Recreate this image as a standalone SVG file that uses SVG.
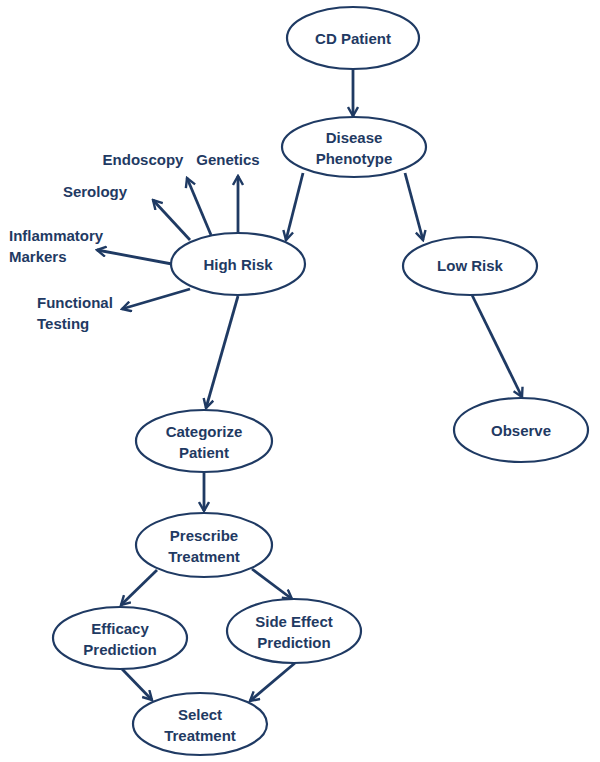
<svg xmlns="http://www.w3.org/2000/svg" width="600" height="762" viewBox="0 0 600 762">
<style>
.n ellipse{fill:#fff;stroke:#1f3a63;stroke-width:2.2}
text{font-family:"Liberation Sans",Arial,sans-serif;font-weight:bold;font-size:15px;fill:#1f3a63;text-anchor:middle}
.l{text-anchor:start}
.c line{stroke:#1f3a63;stroke-width:2.8;marker-end:url(#a)}
</style>
<defs>
<marker id="a" viewBox="0 0 12 12" refX="10" refY="6" markerWidth="12" markerHeight="12" markerUnits="userSpaceOnUse" orient="auto">
<path d="M1,1 L10,6 L1,11" fill="none" stroke="#1f3a63" stroke-width="2.4"/>
</marker>
</defs>
<rect width="600" height="762" fill="#fff"/>
<g class="c">
<line x1="353" y1="69" x2="353" y2="116"/>
<line x1="303" y1="173" x2="286" y2="240"/>
<line x1="405" y1="173" x2="423" y2="240"/>
<line x1="472" y1="295" x2="522" y2="397"/>
<line x1="238" y1="233" x2="238" y2="176"/>
<line x1="211" y1="235" x2="187" y2="178"/>
<line x1="190" y1="240" x2="153" y2="200"/>
<line x1="172" y1="264" x2="97" y2="250"/>
<line x1="190" y1="289" x2="122" y2="309"/>
<line x1="238" y1="296" x2="206" y2="408"/>
<line x1="204" y1="473" x2="204" y2="511"/>
<line x1="157" y1="570" x2="121" y2="605"/>
<line x1="252" y1="569" x2="292" y2="599"/>
<line x1="122" y1="669" x2="152" y2="700"/>
<line x1="295" y1="663" x2="250" y2="701"/>
</g>
<g id="cd-patient" class="n"><ellipse cx="353" cy="38" rx="66" ry="31"/><text x="353" y="44">CD Patient</text></g>
<g id="disease-phenotype" class="n"><ellipse cx="354" cy="147" rx="72" ry="30"/><text x="354" y="143">Disease</text><text x="354" y="164">Phenotype</text></g>
<g id="high-risk" class="n"><ellipse cx="238" cy="264" rx="67" ry="31"/><text x="238" y="270">High Risk</text></g>
<g id="low-risk" class="n"><ellipse cx="470" cy="266" rx="67" ry="29"/><text x="470" y="271">Low Risk</text></g>
<g id="observe" class="n"><ellipse cx="521" cy="430" rx="67" ry="32"/><text x="521" y="436">Observe</text></g>
<g id="genetics"><text x="228" y="165">Genetics</text></g>
<g id="endoscopy"><text x="143" y="165">Endoscopy</text></g>
<g id="serology"><text x="95" y="197">Serology</text></g>
<g id="inflammatory-markers"><text class="l" x="9" y="241">Inflammatory</text><text class="l" x="9" y="262">Markers</text></g>
<g id="functional-testing"><text class="l" x="37" y="308">Functional</text><text class="l" x="37" y="329">Testing</text></g>
<g id="categorize-patient" class="n"><ellipse cx="204" cy="441" rx="68" ry="31"/><text x="204" y="437">Categorize</text><text x="204" y="458">Patient</text></g>
<g id="prescribe-treatment" class="n"><ellipse cx="204" cy="545" rx="68" ry="32"/><text x="204" y="541">Prescribe</text><text x="204" y="562">Treatment</text></g>
<g id="efficacy-prediction" class="n"><ellipse cx="120" cy="638" rx="67" ry="31"/><text x="120" y="634">Efficacy</text><text x="120" y="655">Prediction</text></g>
<g id="side-effect-prediction" class="n"><ellipse cx="294" cy="631" rx="67" ry="32"/><text x="294" y="627">Side Effect</text><text x="294" y="648">Prediction</text></g>
<g id="select-treatment" class="n"><ellipse cx="200" cy="724" rx="67" ry="31"/><text x="200" y="720">Select</text><text x="200" y="741">Treatment</text></g>
</svg>
